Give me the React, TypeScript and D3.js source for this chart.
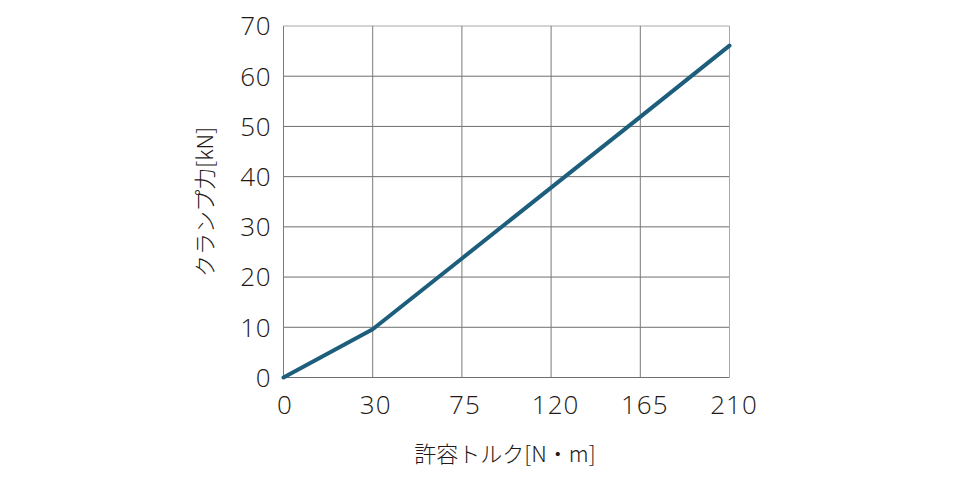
import React from "react";
import * as d3 from "d3";

const xLabels = ["0", "30", "75", "120", "165", "210"];
const clampForce = [0, 9.6, 23.7, 37.8, 51.9, 66.1];
const yTicks = [0, 10, 20, 30, 40, 50, 60, 70];

const W = 960, H = 480;
const left = 283.5, right = 729.5, top = 26, bottom = 377.5;
const numFont = "'Open Sans', 'Noto Sans', sans-serif";
const font = "'Noto Sans CJK JP', 'Noto Sans', sans-serif";
const textColor = "#231815";

export default function App() {
  const x = d3.scalePoint<string>().domain(xLabels).range([left, right]);
  const y = d3.scaleLinear().domain([0, 70]).range([bottom, top]);
  const line = d3
    .line<number>()
    .x((_, i) => x(xLabels[i]) as number)
    .y((d) => y(d));

  return (
    <svg width={W} height={H} style={{ position: "absolute", left: 0, top: 0 }}>
      <rect width={W} height={H} fill="#fff" />
      {yTicks.map((t) => (
        <line key={"h" + t} x1={left} x2={right} y1={y(t)} y2={y(t)} stroke={t === 70 ? "#a8a8a8" : "#6e6e6e"} strokeWidth={1} />
      ))}
      {xLabels.map((l, i) => (
        <line key={"v" + l} x1={x(l)} x2={x(l)} y1={top} y2={bottom} stroke={i === xLabels.length - 1 ? "#a8a8a8" : "#7a7a7a"} strokeWidth={1} />
      ))}
      <path d={line(clampForce) || ""} fill="none" stroke="#1c5e7b" strokeWidth={4} strokeLinejoin="round" strokeLinecap="round" />
      {yTicks.map((t) => (
        <text key={"yt" + t} x={271} y={y(t)} dy="0.36em" textAnchor="end" fontFamily={numFont} fontWeight={300} fontSize={26} letterSpacing={0.5} fill={textColor}>
          {t}
        </text>
      ))}
      {xLabels.map((l) => (
        <text key={"xt" + l} x={(x(l) as number) + l.length * 1.5} y={413.5} textAnchor="middle" fontFamily={numFont} fontWeight={300} fontSize={26} letterSpacing={1} fill={textColor}>
          {l}
        </text>
      ))}
      <text x={505} y={462} textAnchor="middle" fontFamily={font} fontWeight={300} fontSize={22} fill={textColor}>
        許容トルク[N・m]
      </text>
      <text transform={`translate(213,202) rotate(-90)`} textAnchor="middle" fontFamily={font} fontWeight={300} fontSize={22} fill={textColor}>
        クランプ力[kN]
      </text>
    </svg>
  );
}
